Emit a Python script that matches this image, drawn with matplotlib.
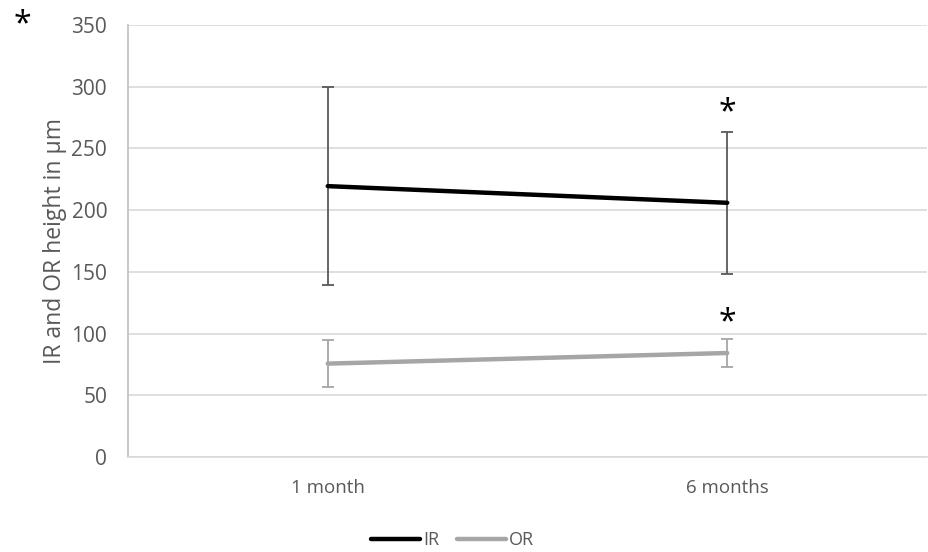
import matplotlib
matplotlib.use("Agg")
import matplotlib.pyplot as plt
import numpy as np

# data
timepoints = ["1 month", "6 months"]
ir_mean = [219.5, 206.0]
ir_sd = [80.0, 57.5]
or_mean = [75.7, 84.3]
or_sd = [19.0, 11.6]
star_y = [279.0, 109.0]   # significance markers at 6 months
y_ticks = [0, 50, 100, 150, 200, 250, 300, 350]

TEXT = "#595959"
GRID = "#d9d9d9"

plt.rcParams["font.family"] = ["Open Sans", "DejaVu Sans"]

fig = plt.figure(figsize=(9.29, 5.52), dpi=100)
ax = fig.add_axes([0.1378, 0.172, 0.86, 0.7826])

x = np.arange(len(timepoints))

ax.errorbar(x, ir_mean, yerr=ir_sd, fmt="none", ecolor="#595959",
            elinewidth=1.3, capsize=4.5, capthick=1.3, zorder=2)
ax.errorbar(x, or_mean, yerr=or_sd, fmt="none", ecolor="#a6a6a6",
            elinewidth=1.3, capsize=4.5, capthick=1.3, zorder=2)
ax.plot(x, ir_mean, color="black", linewidth=3.2, solid_capstyle="round",
        label="IR", zorder=3)
ax.plot(x, or_mean, color="#a6a6a6", linewidth=3.2, solid_capstyle="round",
        label="OR", zorder=3)

for y in star_y:
    ax.text(x[1], y, "*", ha="center", va="center", fontsize=23, color="black")
fig.text(0.024, 0.955, "*", ha="center", va="center", fontsize=23, color="black")

ax.set_xlim(-0.5, 1.5)
ax.set_ylim(0, 350)
ax.set_yticks(y_ticks)
ax.set_xticks(x)
ax.set_xticklabels(timepoints)
ax.tick_params(axis="both", length=0, colors=TEXT)
ax.tick_params(axis="x", pad=16, labelsize=13.5)
ax.tick_params(axis="y", pad=15, labelsize=15)
ax.grid(axis="y", color=GRID, linewidth=1.2)
ax.set_axisbelow(True)
for side in ["top", "right"]:
    ax.spines[side].set_visible(False)
ax.spines["left"].set_color("#bfbfbf")
ax.spines["left"].set_linewidth(1.2)
ax.spines["bottom"].set_color(GRID)
ax.spines["bottom"].set_linewidth(1.2)
ax.set_ylabel("IR and OR height in µm", fontsize=16.5, color=TEXT, labelpad=3)

leg = fig.legend(loc="center", bbox_to_anchor=(0.487, 0.022), ncol=2, frameon=False,
                 fontsize=13, handlelength=2.7, handletextpad=0.15,
                 columnspacing=1.0, labelcolor=TEXT)

fig.savefig("out.png", dpi=100, facecolor="white")
